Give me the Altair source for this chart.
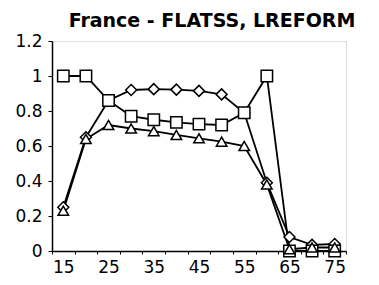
import altair as alt
import pandas as pd

ages = [15, 20, 25, 30, 35, 40, 45, 50, 55, 60, 65, 70, 75]
square_vals = [1.0, 1.0, 0.86, 0.77, 0.75, 0.735, 0.725, 0.72, 0.79, 1.0, 0.0, 0.0, 0.0]
diamond_vals = [0.25, 0.65, 0.86, 0.92, 0.925, 0.922, 0.915, 0.895, 0.79, 0.39, 0.08, 0.035, 0.04]
triangle_vals = [0.23, 0.64, 0.72, 0.70, 0.685, 0.663, 0.644, 0.625, 0.60, 0.38, 0.01, 0.02, 0.02]
series_names = ["triangle", "diamond", "square"]
x_boundaries = [12.5 + 5 * i for i in range(14)]
y_ticks = [0, 0.2, 0.4, 0.6, 0.8, 1.0, 1.2]

rows = []
for name, vals in zip(series_names, [triangle_vals, diamond_vals, square_vals]):
    for a, v in zip(ages, vals):
        rows.append({"age": a, "value": v, "series": name})
df = pd.DataFrame(rows)

xscale = alt.Scale(domain=[12.5, 77.5], nice=False, zero=False)
yscale = alt.Scale(domain=[0, 1.2], nice=False)

xaxis = alt.Axis(
    values=x_boundaries, title=None, grid=False,
    labelExpr="(datum.value - 12.5) % 10 == 0 && datum.value < 77 ? format(datum.value + 2.5, 'd') : ''",
    labelOffset=11.3, labelOverlap=False, labelFlush=False, labelBound=False,
    labelFont="DejaVu Sans", labelFontSize=17, labelColor="black", labelPadding=5,
    tickSize=3, tickColor="black", domainColor="black", domainWidth=1.5,
)
yaxis = alt.Axis(
    values=y_ticks, format=".1~f", title=None, grid=False,
    labelFont="DejaVu Sans", labelFontSize=17, labelColor="black", labelPadding=6,
    tickSize=4, tickColor="black", domainColor="black", domainWidth=1.5,
)

base = alt.Chart(df).encode(
    x=alt.X("age:Q", scale=xscale, axis=xaxis),
    y=alt.Y("value:Q", scale=yscale, axis=yaxis),
)

lines = base.mark_line(color="black", strokeWidth=1.8).encode(detail="series:N")
points = base.mark_point(filled=False, fill="white", fillOpacity=1, stroke="black", strokeWidth=1.5, opacity=1).encode(
    shape=alt.Shape("series:N", scale=alt.Scale(domain=series_names, range=["triangle-up", "diamond", "square"]), legend=None),
    size=alt.Size("series:N", scale=alt.Scale(domain=series_names, range=[110, 130, 85]), legend=None),
    order=alt.Order("series:N"),
)

chart = alt.layer(lines, points).properties(
    width=294, height=210,
    padding={"left": 44, "top": 33, "right": 25, "bottom": 26},
    autosize=alt.AutoSizeParams(type="none"),
    title=alt.TitleParams("France - FLATSS, LREFORM", font="DejaVu Sans", fontSize=19,
                          fontWeight="bold", anchor="middle", dx=13, offset=1, color="black"),
).configure_view(stroke="black", strokeWidth=1.5).configure(background="white")

chart.save("out.html", embed_options={"renderer": "svg", "actions": False})
